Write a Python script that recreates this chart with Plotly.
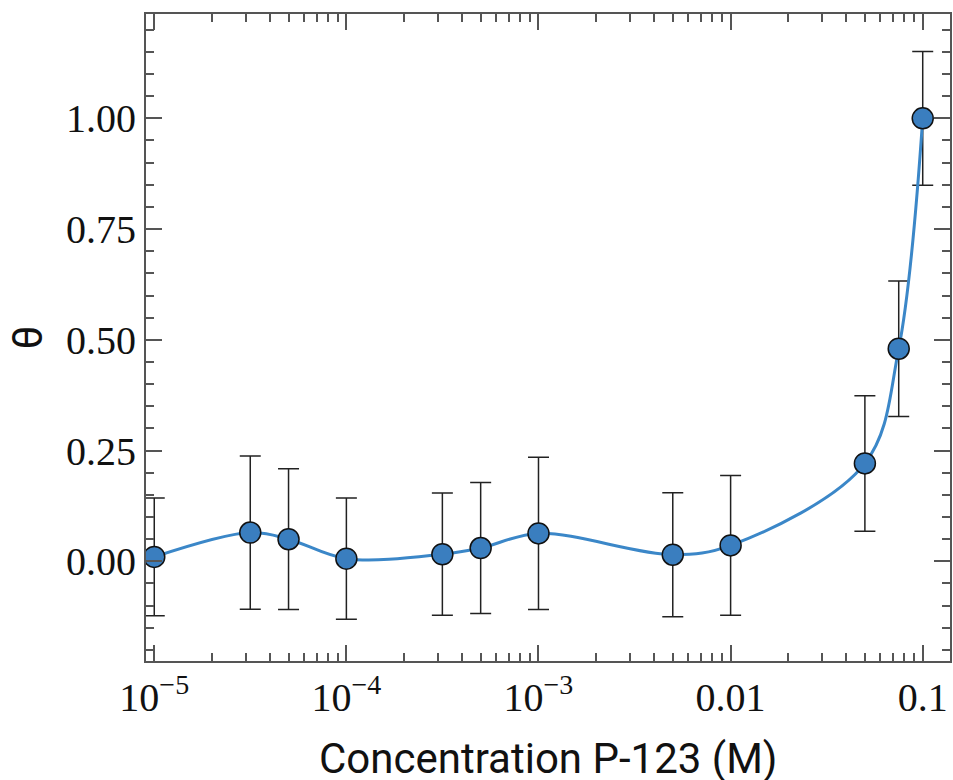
import plotly.graph_objects as go
import numpy as np

# Data
conc = [1e-5, 3.16e-5, 5e-5, 1e-4, 3.16e-4, 5e-4, 1e-3, 5e-3, 1e-2, 5e-2, 7.5e-2, 1e-1]
theta = [0.010, 0.065, 0.050, 0.006, 0.016, 0.030, 0.063, 0.015, 0.036, 0.221, 0.480, 1.000]
theta_err = [0.133, 0.173, 0.159, 0.137, 0.138, 0.148, 0.172, 0.140, 0.158, 0.153, 0.153, 0.151]

x_tickvals = [1e-5, 1e-4, 1e-3, 1e-2, 1e-1]
x_ticktext = ["10<sup>\u22125</sup>", "10<sup>\u22124</sup>", "10<sup>\u22123</sup>", "0.01", "0.1"]
y_tickvals = [0.0, 0.25, 0.5, 0.75, 1.0]
y_ticktext = ["0.00", "0.25", "0.50", "0.75", "1.00"]
x_title = "Concentration P-123 (M)"
y_title = "\u03b8"

x_minor = [m * 10.0 ** e for e in range(-6, 0) for m in range(2, 10)]
y_minor = [round(-0.25 + 0.05 * i, 2) for i in range(0, 31)]

AX = "#555555"
MARK = "#3A7EBF"
LINE = "#3B87C8"

fig = go.Figure()
fig.add_trace(go.Scatter(
    x=conc, y=theta,
    mode="lines+markers",
    line=dict(color=LINE, width=3, shape="spline", smoothing=1.0),
    marker=dict(size=21, color=MARK, line=dict(color="#111111", width=1.5)),
    error_y=dict(type="data", array=theta_err, visible=True,
                 color="#222222", thickness=1.5, width=10.5),
    showlegend=False,
))

fig.add_annotation(
    text=x_title, xref="paper", yref="paper", x=0.5, y=-0.1512,
    xanchor="center", yanchor="middle", showarrow=False,
    font=dict(family="Roboto", size=42, color="#111111"),
)

fig.update_layout(
    width=953, height=780,
    margin=dict(l=146, r=1, t=14, b=119),
    paper_bgcolor="white", plot_bgcolor="white",
    xaxis=dict(
        type="log", range=[-5.043, -0.858],
        tickmode="array", tickvals=x_tickvals, ticktext=x_ticktext,
        ticks="inside", ticklen=16, tickwidth=2, tickcolor=AX,
        minor=dict(ticks="inside", ticklen=8, tickwidth=2, tickcolor=AX, tickvals=x_minor, showgrid=False),
        showline=True, linecolor=AX, linewidth=2, mirror="allticks",
        showgrid=False, zeroline=False,
        tickfont=dict(family="Liberation Serif", size=40, color="#111111"),
    ),
    yaxis=dict(
        range=[-0.225, 1.2355],
        tickmode="array", tickvals=y_tickvals, ticktext=y_ticktext,
        ticks="inside", ticklen=16, tickwidth=2, tickcolor=AX,
        minor=dict(ticks="inside", ticklen=8, tickwidth=2, tickcolor=AX, tickvals=y_minor, showgrid=False),
        showline=True, linecolor=AX, linewidth=2, mirror="allticks",
        showgrid=False, zeroline=False,
        tickfont=dict(family="Liberation Serif", size=40, color="#111111"),
        title=dict(text=y_title, font=dict(family="Roboto", size=42, color="#111111"), standoff=10),
    ),
)

fig.write_html("out.html")
